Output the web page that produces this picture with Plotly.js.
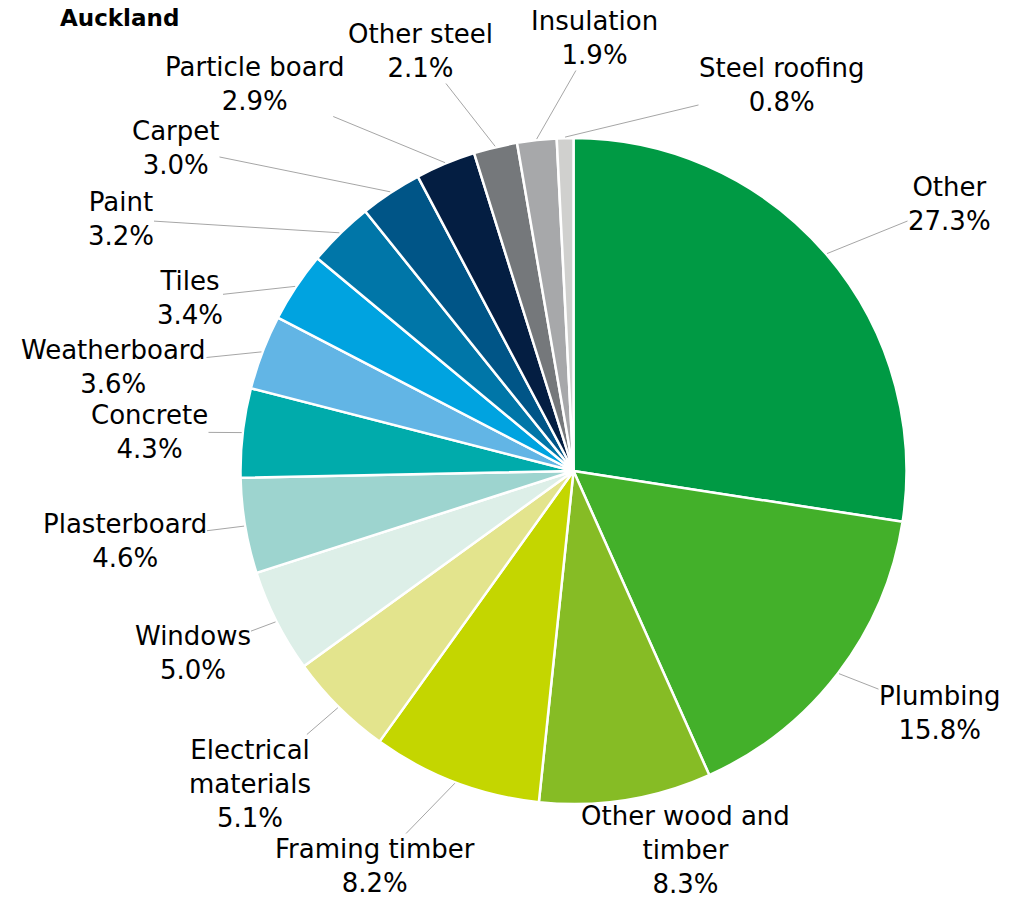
<!DOCTYPE html>
<html>
<head>
<meta charset="utf-8">
<script src="https://cdn.plot.ly/plotly-3.0.1.min.js"></script>
<style>html,body{margin:0;padding:0;background:#fff;}#chart{width:1010px;height:898px;}</style>
</head>
<body>
<div id="chart"></div>
<script>
// ---- data ----
const categories = ["Other", "Plumbing", "Other wood and<br>timber", "Framing timber", "Electrical<br>materials",
  "Windows", "Plasterboard", "Concrete", "Weatherboard", "Tiles", "Paint", "Carpet",
  "Particle board", "Other steel", "Insulation", "Steel roofing"];
const shares = [27.3, 15.8, 8.3, 8.2, 5.1, 5.0, 4.6, 4.3, 3.6, 3.4, 3.2, 3.0, 2.9, 2.1, 1.9, 0.8];
const sliceColors = ["#009A44", "#43B02A", "#86BC25", "#C4D600", "#E3E48D", "#DDEFE8", "#9DD4CF", "#00ABAB",
  "#62B5E5", "#00A3E0", "#0076A8", "#005587", "#041E42", "#75787B", "#A7A8AA", "#D0D0CE"];

// ---- layout (label placement, relative to pie centre, in pixels) ----
const labelOffsets = [[376,-267],[366,242],[112,379],[-199,395],[-324,313],[-381,182],[-449,70],[-424,-39],
  [-460,-104],[-384,-173],[-453,-252],[-398,-323],[-319,-387],[-153,-420],[21,-433],[208,-386]];

const W = 1010, H = 898;
const cx = 573.5, cy = 471, R = 333;

const total = shares.reduce((a, b) => a + b, 0);
let cum = 0;
const annotations = [];
shares.forEach((v, i) => {
  const mid = (cum + v / 2) / total * 2 * Math.PI;
  cum += v;
  const px = cx + (R + 1) * Math.sin(mid);
  const py = cy - (R + 1) * Math.cos(mid);
  const tx = cx + labelOffsets[i][0];
  const ty = cy + labelOffsets[i][1];
  annotations.push({
    x: px / W, y: 1 - py / H, xref: 'paper', yref: 'paper',
    ax: tx - px, ay: ty - py,
    text: categories[i] + '<br>' + v.toFixed(1) + '%',
    showarrow: true, arrowhead: 0, arrowwidth: 1, arrowcolor: '#A6A6A6', standoff: 0,
    align: 'center', borderpad: 0,
    font: {family: 'DejaVu Sans, Verdana, sans-serif', size: 26, color: '#000'}
  });
});

const trace = {
  type: 'pie',
  labels: categories.map(c => c.replace('<br>', ' ')),
  values: shares,
  sort: false,
  direction: 'clockwise',
  rotation: 0,
  marker: {colors: sliceColors, line: {color: '#FFFFFF', width: 2.5}},
  textinfo: 'none',
  hoverinfo: 'label+percent',
  showlegend: false,
  domain: {x: [(cx - R) / W, (cx + R) / W], y: [1 - (cy + R) / H, 1 - (cy - R) / H]}
};

const layout = {
  width: W, height: H,
  margin: {l: 0, r: 0, t: 0, b: 0},
  paper_bgcolor: '#fff',
  title: {text: '<b>Auckland</b>', x: 60 / W, xanchor: 'left', y: 1 - 18 / H, yanchor: 'middle',
    font: {family: 'DejaVu Sans, Verdana, sans-serif', size: 23, color: '#000'}},
  annotations: annotations,
  showlegend: false
};

Plotly.newPlot('chart', [trace], layout, {displayModeBar: false, staticPlot: true});
</script>
</body>
</html>
